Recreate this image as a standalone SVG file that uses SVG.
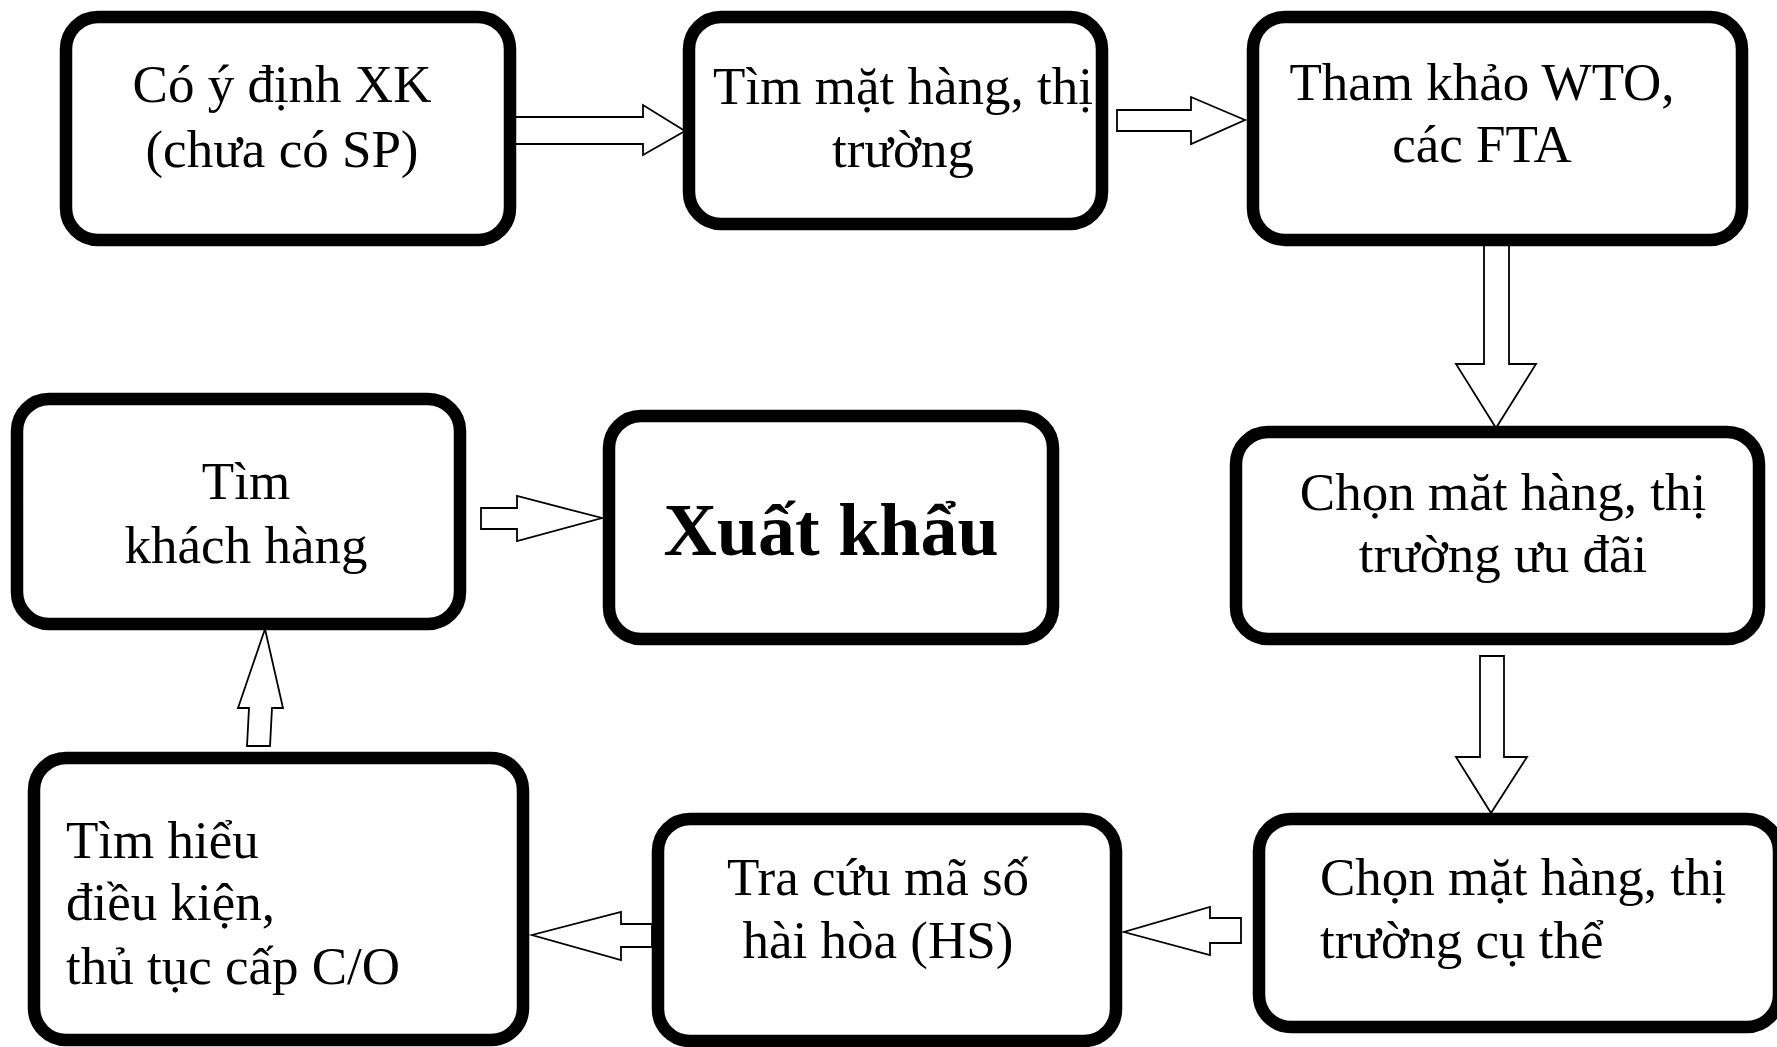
<svg xmlns="http://www.w3.org/2000/svg" width="1777" height="1047" viewBox="0 0 1777 1047">
<style>
.box{fill:#fff;stroke:#000;stroke-width:12.5}
.t{font-family:"Liberation Serif","Times New Roman",serif;font-size:53px;fill:#000}
.c{text-anchor:middle}
.b{font-weight:bold;font-size:74px}
.arr{fill:#fff;stroke:#000;stroke-width:1.8;stroke-linejoin:miter}
</style>
<rect width="1777" height="1047" fill="#fff"/>
<g id="connectors">
<polygon class="arr" points="513,117 643,117 643,105 685,131 643,155 643,144 513,144"/>
<polygon class="arr" points="1117,110 1191,110 1191,97 1245,120 1191,144 1191,131 1117,131"/>
<polygon class="arr" points="1484,244 1509,244 1509,364 1536,364 1496,428 1456,364 1484,364"/>
<polygon class="arr" points="1480,656 1504,656 1504,757 1527,757 1491,813 1456,757 1480,757"/>
<polygon class="arr" points="1241,918 1210,918 1210,907 1124,932 1210,955 1210,943 1241,943"/>
<polygon class="arr" points="652,924 621,924 621,912 532,935 621,960 621,947 652,947"/>
<polygon class="arr" points="247,746 270,746 272,708 283,708 265,629 238,708 249,708"/>
<polygon class="arr" points="481,508 517,508 517,496 602,518 517,541 517,529 481,529"/>
</g>
<g id="n1">
<rect class="box" x="66" y="17" width="444" height="223" rx="32"/>
<text class="t c" x="282" y="102">Có ý định XK</text>
<text class="t c" x="282" y="167">(chưa có SP)</text>
</g>
<g id="n2">
<rect class="box" x="689" y="17" width="413" height="207" rx="32"/>
<text class="t c" x="903" y="104">Tìm mặt hàng, thị</text>
<text class="t c" x="903" y="167">trường</text>
</g>
<g id="n3">
<rect class="box" x="1253" y="17" width="489" height="223" rx="32"/>
<text class="t c" x="1482" y="100">Tham khảo WTO,</text>
<text class="t c" x="1482" y="162">các FTA</text>
</g>
<g id="n4">
<rect class="box" x="1236" y="432" width="523" height="207" rx="32"/>
<text class="t c" x="1503" y="510">Chọn măt hàng, thị</text>
<text class="t c" x="1503" y="572">trường ưu đãi</text>
</g>
<g id="n5">
<rect class="box" x="17" y="399" width="443" height="225" rx="32"/>
<text class="t c" x="246" y="499">Tìm</text>
<text class="t c" x="246" y="563">khách hàng</text>
</g>
<g id="n6">
<rect class="box" x="609" y="416" width="444" height="223" rx="32"/>
<text class="t c b" x="831" y="555">Xuất khẩu</text>
</g>
<g id="n7">
<rect class="box" x="34" y="758" width="489" height="282" rx="32"/>
<text class="t" x="66" y="858">Tìm hiểu</text>
<text class="t" x="66" y="920">điều kiện,</text>
<text class="t" x="66" y="984">thủ tục cấp C/O</text>
</g>
<g id="n8">
<rect class="box" x="658" y="819" width="458" height="222" rx="32"/>
<text class="t c" x="878" y="895">Tra cứu mã số</text>
<text class="t c" x="878" y="958">hài hòa (HS)</text>
</g>
<g id="n9">
<rect class="box" x="1259" y="819" width="520" height="208" rx="32"/>
<text class="t" x="1320" y="895">Chọn mặt hàng, thị</text>
<text class="t" x="1320" y="958">trường cụ thể</text>
</g>
</svg>
